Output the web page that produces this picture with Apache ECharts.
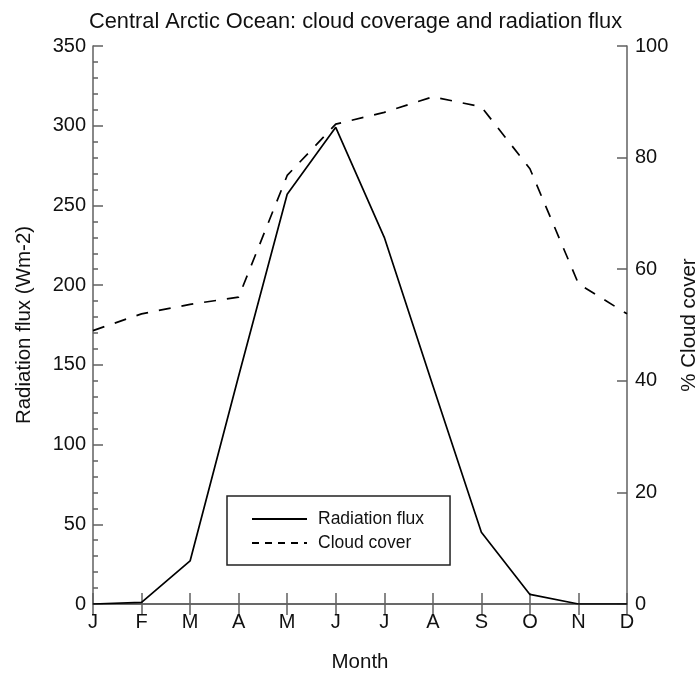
<!DOCTYPE html>
<html>
<head>
<meta charset="utf-8">
<script src="https://cdn.jsdelivr.net/npm/echarts@6/dist/echarts.min.js"></script>
<style>html,body{margin:0;padding:0;background:#fff}#c{width:700px;height:673px}</style>
</head>
<body>
<div id="c"></div>
<script>
var months = ['J','F','M','A','M','J','J','A','S','O','N','D'];
var radiationFlux = [0, 1, 27, 143, 257, 299, 230, 137, 45, 6, 0, 0];
var cloudCover = [49, 52, 53.7, 55, 76.8, 86, 88.1, 90.9, 89.1, 78, 57.4, 52];
var leftTicks = [0, 350, 50];
var rightTicks = [0, 100, 20];

var FONT = 'Liberation Sans, Arial, sans-serif';
var AX = '#606060';
var chart = echarts.init(document.getElementById('c'), null, {renderer: 'canvas'});
chart.setOption({
  backgroundColor: '#fff',
  animation: false,
  title: {
    text: 'Central Arctic Ocean: cloud coverage and radiation flux',
    left: 84, top: 6,
    textStyle: {fontFamily: FONT, fontSize: 21.8, fontWeight: 'normal', color: '#111'}
  },
  legend: {
    orient: 'vertical',
    left: 227, top: 496,
    padding: [14, 26, 13, 24],
    itemWidth: 55, itemHeight: 14, itemGap: 6,
    borderColor: '#222', borderWidth: 1.5,
    itemStyle: {opacity: 0},
    textStyle: {fontFamily: FONT, fontSize: 17.5, color: '#111', padding: [0, 0, 0, 6]},
    data: ['Radiation flux', {name: 'Cloud cover', lineStyle: {type: [7, 6]}}]
  },
  grid: {left: 93, right: 73, top: 46, bottom: 69, containLabel: false, outerBoundsMode: 'none'},
  xAxis: [{
    type: 'category', data: months, boundaryGap: false, position: 'bottom',
    name: 'Month', nameLocation: 'middle', nameGap: 48,
    nameTextStyle: {fontFamily: FONT, fontSize: 20.5, color: '#111'},
    axisLine: {lineStyle: {color: AX, width: 1.5}},
    axisTick: {inside: true, length: 11, lineStyle: {color: AX, width: 1.5}},
    axisLabel: {fontFamily: FONT, fontSize: 20, color: '#111', margin: 8},
    splitLine: {show: false}
  }, {
    type: 'category', data: months, boundaryGap: false, position: 'top',
    axisLine: {lineStyle: {color: AX, width: 1.5}},
    axisTick: {inside: true, length: 11, lineStyle: {color: AX, width: 1.5}},
    axisLabel: {show: false},
    splitLine: {show: false}
  }],
  yAxis: [{
    type: 'value', min: leftTicks[0], max: leftTicks[1], interval: leftTicks[2], position: 'left',
    name: 'Radiation flux (Wm-2)', nameLocation: 'middle', nameGap: 58,
    nameTextStyle: {fontFamily: FONT, fontSize: 20.5, color: '#111'},
    axisLine: {show: true, lineStyle: {color: AX, width: 1.5}},
    axisTick: {show: true, inside: true, length: 10, lineStyle: {color: AX, width: 1.5}},
    minorTick: {show: true, splitNumber: 5, length: 5, lineStyle: {color: AX, width: 1.5}},
    axisLabel: {fontFamily: FONT, fontSize: 20, color: '#111', margin: 7},
    splitLine: {show: false}
  }, {
    type: 'value', min: rightTicks[0], max: rightTicks[1], interval: rightTicks[2], position: 'right',
    name: '% Cloud cover', nameLocation: 'middle', nameGap: 51,
    nameTextStyle: {fontFamily: FONT, fontSize: 20.5, color: '#111'},
    axisLine: {show: true, lineStyle: {color: AX, width: 1.5}},
    axisTick: {show: true, inside: true, length: 10, lineStyle: {color: AX, width: 1.5}},
    axisLabel: {fontFamily: FONT, fontSize: 20, color: '#111', margin: 8},
    splitLine: {show: false}
  }],
  series: [{
    name: 'Radiation flux', type: 'line', data: radiationFlux,
    xAxisIndex: 0, yAxisIndex: 0, symbol: 'none',
    lineStyle: {color: '#000', width: 1.7, type: 'solid'},
    itemStyle: {color: '#000'}
  }, {
    name: 'Cloud cover', type: 'line', data: cloudCover,
    xAxisIndex: 0, yAxisIndex: 1, symbol: 'none',
    lineStyle: {color: '#000', width: 1.7, type: [12, 11]},
    itemStyle: {color: '#000'}
  }]
});
</script>
</body>
</html>
